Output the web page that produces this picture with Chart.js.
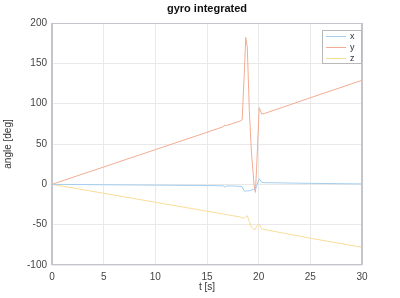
<!DOCTYPE html>
<html>
<head>
<meta charset="utf-8">
<script src="https://cdn.jsdelivr.net/npm/chart.js@4"></script>
<style>
  html, body { margin: 0; padding: 0; background: #fff; }
  #wrap { width: 400px; height: 298px; }
</style>
</head>
<body>
<div id="wrap"><canvas id="gyroChart" width="400" height="298"></canvas></div>
<script>
// time samples [s]
const t = [0, 5, 10, 15, 16.6, 16.7, 16.9, 17.5, 18.2, 18.4, 18.6, 18.75, 18.9, 19.1, 19.3, 19.55, 19.68, 19.8, 20.05, 20.3, 20.6, 21, 25, 30];
// integrated angles [deg]
const angX = [0, -0.5, -1, -1.5, -1.8, -3.5, -2, -2, -2.5, -3, -8, -8.5, -8, -8, -7, -6, -7, -2, 7, 2.5, 2, 2, 1.2, 0.5];
const angY = [0, 21.5, 43, 64.5, 71.5, 73.5, 73, 75.5, 78.5, 80, 135, 182, 170, 90, 40, 0, -10, 20, 95, 87, 88, 89.7, 107.3, 129];
const angZ = [0, -11.1, -22.2, -33.3, -36.9, -37.1, -37.5, -38.9, -40.4, -41.5, -42, -40, -39, -46, -53, -56, -55.5, -52, -49, -55.5, -56, -57.1, -66.8, -78];

const xTicks = [0, 5, 10, 15, 20, 25, 30];
const yTicks = [-100, -50, 0, 50, 100, 150, 200];

const seriesNames = ['x', 'y', 'z'];
const seriesColors = ['#a3cdee', '#f2ac92', '#fadc98'];
const titleText = 'gyro integrated';

function pts(vals) {
  return t.map((v, i) => ({ x: v, y: vals[i] }));
}

const font = 'Liberation Sans, Arial, sans-serif';

// 枠・タイトル・凡例を描く
const boxAndLegend = {
  id: 'boxAndLegend',
  afterDraw(chart) {
    const { ctx, chartArea: a } = chart;
    ctx.save();
    ctx.strokeStyle = '#c4c4cc';
    ctx.lineWidth = 1;
    ctx.strokeRect(a.left + 0.5, a.top + 0.5, a.right - a.left - 1, a.bottom - a.top - 1);
    ctx.fillStyle = '#c4c4cc';
    ctx.fillRect(a.left - 1, a.top, 2, a.bottom - a.top);
    ctx.fillRect(a.right - 1, a.top, 2, a.bottom - a.top);

    // title
    ctx.fillStyle = '#111';
    ctx.font = 'bold 11px ' + font;
    ctx.textAlign = 'center';
    ctx.textBaseline = 'middle';
    ctx.fillText(titleText, (a.left + a.right) / 2, 9);

    // legend
    const lx = 322, ly = 30, lw = 39, lh = 33;
    ctx.textAlign = 'left';
    ctx.fillStyle = '#fff';
    ctx.fillRect(lx, ly, lw, lh);
    ctx.strokeStyle = '#b8b8b8';
    ctx.strokeRect(lx + 0.5, ly + 0.5, lw, lh);
    ctx.font = '9px ' + font;
    chart.data.datasets.forEach((ds, i) => {
      const yy = ly + 6.5 + i * 11;
      ctx.strokeStyle = ds.borderColor;
      ctx.lineWidth = 1;
      ctx.beginPath();
      ctx.moveTo(lx + 4, yy);
      ctx.lineTo(lx + 24, yy);
      ctx.stroke();
      ctx.fillStyle = '#333';
      ctx.fillText(ds.label, lx + 28, yy);
    });
    ctx.restore();
  }
};

const ctx = document.getElementById('gyroChart').getContext('2d');
new Chart(ctx, {
  type: 'line',
  data: {
    datasets: [angX, angY, angZ].map((vals, i) => ({
      label: seriesNames[i],
      data: pts(vals),
      borderColor: seriesColors[i],
      borderWidth: 1,
      pointRadius: 0,
      fill: false,
      tension: 0
    }))
  },
  options: {
    responsive: false,
    animation: false,
    layout: { padding: { top: 23, right: 38, left: 2, bottom: 0 } },
    plugins: {
      legend: { display: false },
      tooltip: { enabled: false },
      title: { display: false }
    },
    scales: {
      x: {
        type: 'linear',
        min: 0, max: 30,
        afterBuildTicks: s => { s.ticks = xTicks.map(v => ({ value: v })); },
        afterFit: s => { s.height = 33; },
        grid: { color: '#e9e9e9', drawTicks: false },
        border: { display: false },
        ticks: { color: '#444', font: { family: font, size: 10 }, padding: 6, maxRotation: 0 },
        title: { display: true, text: 't [s]', color: '#333', font: { family: font, size: 10 }, padding: { top: 0, bottom: 5 } }
      },
      y: {
        min: -100, max: 200,
        afterBuildTicks: s => { s.ticks = yTicks.map(v => ({ value: v })); },
        afterFit: s => { s.width = 50; },
        grid: { color: '#e9e9e9', drawTicks: false },
        border: { display: false },
        ticks: { color: '#444', font: { family: font, size: 10 }, padding: 5 },
        title: { display: true, text: 'angle [deg]', color: '#333', font: { family: font, size: 10 }, padding: { top: 0, bottom: 2 } }
      }
    }
  },
  plugins: [boxAndLegend]
});
</script>
</body>
</html>
